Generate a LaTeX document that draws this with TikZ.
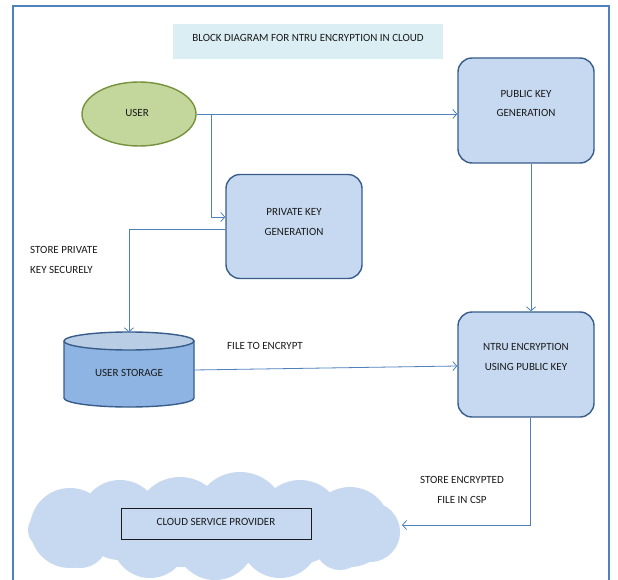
\documentclass[tikz,border=0pt]{standalone}
\usepackage{fontspec}
\setmainfont{Carlito}
\usetikzlibrary{arrows.meta,calc,shapes.geometric}
\definecolor{boxfill}{HTML}{C6D9F1}
\definecolor{boxdraw}{HTML}{385D8A}
\definecolor{conncol}{HTML}{4F81BD}
\definecolor{userfill}{HTML}{C3D69B}
\definecolor{userdraw}{HTML}{76923C}
\definecolor{titlefill}{HTML}{DBEEF4}
\definecolor{cylbody}{HTML}{8EB4E3}
\definecolor{cyltop}{HTML}{B9CDE5}
\definecolor{txt}{HTML}{1A1A1A}
\tikzset{
  lbl/.style={font=\fontsize{11}{19.5}\selectfont, text=txt, align=center, inner sep=0pt},
  roundbox/.style={rectangle, rounded corners=14pt, draw=boxdraw, fill=boxfill, line width=1.4pt, minimum width=136pt, minimum height=105pt},
  conn/.style={draw=conncol, line width=0.8pt, -{Straight Barb[length=4pt,width=9pt]}},
}
\begin{document}
\begin{tikzpicture}[x=1pt,y=-1pt]
\useasboundingbox (0,0) rectangle (618,580);
\clip (0,0) rectangle (618,580);
\fill[white] (0,0) rectangle (618,580);
% frame
\draw[conncol, line width=1.4pt] (13,6) rectangle (609,600);
% title
\node[fill=titlefill, minimum width=270pt, minimum height=35pt, inner sep=0pt] (title) at (308,41.5) {};
\node[lbl] (titletext) at (308,38) {BLOCK DIAGRAM FOR NTRU ENCRYPTION  IN CLOUD};
% user
\node[ellipse, draw=userdraw, fill=userfill, line width=1.4pt, minimum width=114pt, minimum height=64pt, inner sep=0pt] (user) at (139,114) {};
\node[lbl] (usertext) at (137,113) {USER};
% boxes
\node[roundbox] (pub) at (526,110.5) {};
\node[lbl] (pubtext) at (526,103.5) {PUBLIC KEY\\GENERATION};
\node[roundbox, minimum height=104pt] (priv) at (294,226.5) {};
\node[lbl] (privtext) at (294,222) {PRIVATE KEY\\GENERATION};
\node[roundbox] (ntru) at (526,364.5) {};
\node[lbl] (ntrutext) at (526,357) {NTRU ENCRYPTION\\USING  PUBLIC KEY};
% storage cylinder
\node[minimum width=130pt, minimum height=75pt, inner sep=0pt] (stor) at (129,370) {};
\fill[cylbody] (64,341) -- (64,398) arc[start angle=180, end angle=360, x radius=65pt, y radius=9pt] -- (194,341) -- cycle;
\draw[boxdraw, line width=1.4pt] (64,341) -- (64,398) arc[start angle=180, end angle=360, x radius=65pt, y radius=9pt] -- (194,341);
\draw[boxdraw, fill=cyltop, line width=1.4pt] (129,341) ellipse[x radius=65pt, y radius=9pt];
\node[lbl] (stortext) at (129,373) {USER STORAGE};
% cloud
\begin{scope}[fill=boxfill]
\fill (70,528) circle[radius=40pt];
\fill (120,520) circle[radius=40pt];
\fill (180,522) circle[radius=45pt];
\fill (240,518) circle[radius=46pt];
\fill (300,522) circle[radius=42pt];
\fill (350,527) circle[radius=40pt];
\fill (370,532) circle[radius=30pt];
\fill (150,540) circle[radius=38pt];
\fill (215,540) circle[radius=40pt];
\fill (280,538) circle[radius=40pt];
\fill (340,545) circle[radius=25pt];
\fill (80,540) circle[radius=28pt];
\fill (46,530) circle[radius=18pt];
\end{scope}
\node[rectangle, draw=txt, fill=boxfill, line width=1pt, minimum width=190pt, minimum height=31pt, inner sep=0pt] (csp) at (216,523.5) {};
\node[lbl] (csptext) at (216,522) {CLOUD SERVICE  PROVIDER};
\coordinate (cloudin) at (402,525);
% labels
\node[lbl, align=left, anchor=west] (lblpriv) at (30,260) {STORE PRIVATE\\KEY SECURELY};
\node[lbl] (lblfile) at (265,346) {FILE TO ENCRYPT};
\node[lbl] (lblenc) at (462,490) {STORE ENCRYPTED\\FILE IN CSP};
% connectors
\coordinate (br) at (211,114);
\draw[conn] (user.east) -- (user.east -| pub.west);
\draw[conn] (br) |- ($(priv.west)+(0,-9.5)$);
\draw[conn] ($(priv.west)+(0,2.5)$) -| (stor.north);
\draw[conn] ($(pub.south)+(5,0)$) -- ($(ntru.north)+(5,0)$);
\draw[conn] (194,370) -- ($(ntru.west)+(0,1.5)$);
\draw[conn] ($(ntru.south)+(4,0)$) |- (cloudin);
\end{tikzpicture}
\end{document}
